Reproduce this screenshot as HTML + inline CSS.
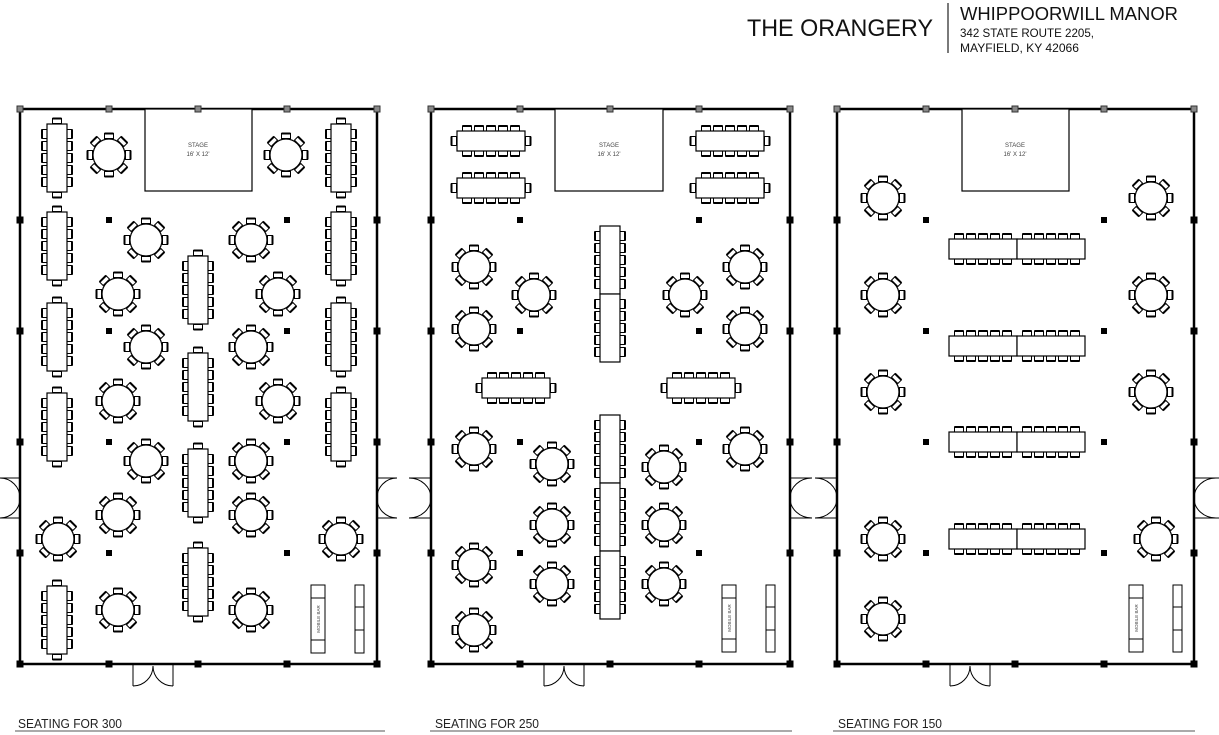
<!DOCTYPE html>
<html><head><meta charset="utf-8"><style>
html,body{margin:0;padding:0;background:#fff;width:1219px;height:735px;overflow:hidden}
svg{display:block}
text{font-family:"Liberation Sans",sans-serif}
</style></head><body>
<svg width="1219" height="735" viewBox="0 0 1219 735" xmlns="http://www.w3.org/2000/svg">
<defs>
<g id="ch"><rect x="-4.5" y="-2.5" width="9" height="5" fill="#fff" stroke="#000" stroke-width="1"/><line x1="-4.5" y1="-2.5" x2="4.5" y2="-2.5" stroke="#000" stroke-width="2"/></g>
<g id="rt">
<g transform="rotate(0) translate(0,-19)"><use href="#ch"/></g>
<g transform="rotate(45) translate(0,-19)"><use href="#ch"/></g>
<g transform="rotate(90) translate(0,-19)"><use href="#ch"/></g>
<g transform="rotate(135) translate(0,-19)"><use href="#ch"/></g>
<g transform="rotate(180) translate(0,-19)"><use href="#ch"/></g>
<g transform="rotate(225) translate(0,-19)"><use href="#ch"/></g>
<g transform="rotate(270) translate(0,-19)"><use href="#ch"/></g>
<g transform="rotate(315) translate(0,-19)"><use href="#ch"/></g>
<circle r="16" fill="#fff" stroke="#000" stroke-width="1.2"/>
</g>
<g id="hc">
<g transform="translate(-24,-12.5)"><use href="#ch"/></g><g transform="translate(-12,-12.5)"><use href="#ch"/></g><g transform="translate(0,-12.5)"><use href="#ch"/></g><g transform="translate(12,-12.5)"><use href="#ch"/></g><g transform="translate(24,-12.5)"><use href="#ch"/></g>
<g transform="translate(-24,12.5) rotate(180)"><use href="#ch"/></g><g transform="translate(-12,12.5) rotate(180)"><use href="#ch"/></g><g transform="translate(0,12.5) rotate(180)"><use href="#ch"/></g><g transform="translate(12,12.5) rotate(180)"><use href="#ch"/></g><g transform="translate(24,12.5) rotate(180)"><use href="#ch"/></g>
<rect x="-34" y="-10" width="68" height="20" fill="#fff" stroke="#000" stroke-width="1.2"/>
</g>
<g id="ht">
<g transform="translate(-37,0) rotate(-90)"><use href="#ch"/></g>
<g transform="translate(37,0) rotate(90)"><use href="#ch"/></g>
<use href="#hc"/>
</g>
<g id="vc"><g transform="rotate(90)"><use href="#hc"/></g></g>
<g id="vt"><g transform="rotate(90)"><use href="#ht"/></g></g>
<g id="pc"><rect x="-3.5" y="-3.5" width="7" height="7" fill="#000"/></g>
<g id="pi"><rect x="-3" y="-3" width="6" height="6" fill="#000"/></g>
<g id="pg"><rect x="-3" y="-3" width="6" height="6" fill="#888" stroke="#333" stroke-width="1"/></g>
</defs>

<text x="747" y="36" font-size="24" fill="#111" textLength="186" lengthAdjust="spacingAndGlyphs">THE ORANGERY</text>
<line x1="948" y1="3" x2="948" y2="53" stroke="#222" stroke-width="1.2"/>
<text x="960" y="20" font-size="18.5" fill="#111" textLength="218" lengthAdjust="spacingAndGlyphs">WHIPPOORWILL MANOR</text>
<text x="960" y="37" font-size="12" fill="#111" textLength="134" lengthAdjust="spacingAndGlyphs">342 STATE ROUTE 2205,</text>
<text x="960" y="52" font-size="12" fill="#111" textLength="119" lengthAdjust="spacingAndGlyphs">MAYFIELD, KY 42066</text>

<!-- PLAN 1 -->
<g>
<rect x="20" y="109" width="357" height="555" fill="none" stroke="#000" stroke-width="2.5"/>
<rect x="145" y="109" width="107" height="82" fill="#fff" stroke="#000" stroke-width="1.2"/>
<text x="198" y="147" font-size="6" text-anchor="middle" fill="#444">STAGE</text>
<text x="198" y="156" font-size="6" text-anchor="middle" fill="#444">16' X 12'</text>
<use href="#pg" x="20" y="109"/><use href="#pg" x="109" y="109"/><use href="#pg" x="198" y="109"/><use href="#pg" x="287" y="109"/><use href="#pg" x="377" y="109"/>
<use href="#pc" x="20" y="220"/><use href="#pc" x="20" y="331"/><use href="#pc" x="20" y="442"/><use href="#pc" x="20" y="553"/><use href="#pc" x="20" y="664"/>
<use href="#pc" x="377" y="220"/><use href="#pc" x="377" y="331"/><use href="#pc" x="377" y="442"/><use href="#pc" x="377" y="553"/><use href="#pc" x="377" y="664"/>
<use href="#pc" x="109" y="664"/><use href="#pc" x="198" y="664"/><use href="#pc" x="287" y="664"/>
<use href="#pi" x="109" y="220"/><use href="#pi" x="109" y="331"/><use href="#pi" x="109" y="442"/><use href="#pi" x="109" y="553"/>
<use href="#pi" x="287" y="220"/><use href="#pi" x="287" y="331"/><use href="#pi" x="287" y="442"/><use href="#pi" x="287" y="553"/>
<path d="M0 478 H20 M0 518 H20 M0 478 A20 20 0 0 1 20 498 M0 518 A20 20 0 0 0 20 498" fill="none" stroke="#000" stroke-width="1"/>
<path d="M133 664 V686 M173 664 V686 M133 686 A20 20 0 0 0 153 666 M173 686 A20 20 0 0 1 153 666" fill="none" stroke="#000" stroke-width="1"/>
<path d="M377 478 H397 M377 518 H397 M397 478 A20 20 0 0 0 377 498 M397 518 A20 20 0 0 1 377 498" fill="none" stroke="#000" stroke-width="1"/>
<use href="#rt" x="109" y="155"/><use href="#rt" x="286" y="155"/>
<use href="#rt" x="146" y="240"/><use href="#rt" x="251" y="240"/>
<use href="#rt" x="118" y="294"/><use href="#rt" x="278" y="294"/>
<use href="#rt" x="146" y="347"/><use href="#rt" x="251" y="347"/>
<use href="#rt" x="118" y="401"/><use href="#rt" x="278" y="401"/>
<use href="#rt" x="146" y="461"/><use href="#rt" x="251" y="461"/>
<use href="#rt" x="118" y="515"/><use href="#rt" x="251" y="515"/>
<use href="#rt" x="58" y="539"/><use href="#rt" x="341" y="539"/>
<use href="#rt" x="118" y="610"/><use href="#rt" x="251" y="610"/>
<use href="#vt" x="57" y="158"/><use href="#vt" x="57" y="246"/><use href="#vt" x="57" y="337"/><use href="#vt" x="57" y="427"/><use href="#vt" x="57" y="620"/>
<use href="#vt" x="341" y="158"/><use href="#vt" x="341" y="246"/><use href="#vt" x="341" y="337"/><use href="#vt" x="341" y="427"/>
<use href="#vt" x="198" y="290"/><use href="#vt" x="198" y="387"/><use href="#vt" x="198" y="483"/><use href="#vt" x="198" y="582"/>
<rect x="311" y="585" width="14" height="68" fill="#fff" stroke="#000" stroke-width="1"/>
<line x1="311" y1="598" x2="325" y2="598" stroke="#000"/><line x1="311" y1="640" x2="325" y2="640" stroke="#000"/>
<text transform="translate(320,619) rotate(-90)" font-size="4.5" text-anchor="middle" fill="#444">MOBILE BAR</text>
<rect x="355" y="585" width="9" height="68" fill="#fff" stroke="#000" stroke-width="1"/>
<line x1="355" y1="607" x2="364" y2="607" stroke="#000"/><line x1="355" y1="630" x2="364" y2="630" stroke="#000"/>
<text x="18" y="728" font-size="12.5" fill="#222" textLength="104" lengthAdjust="spacingAndGlyphs">SEATING FOR 300</text>
<line x1="15" y1="731" x2="385" y2="731" stroke="#555" stroke-width="1"/>
</g>

<!-- PLAN 2 -->
<g>
<rect x="431" y="109" width="359" height="555" fill="none" stroke="#000" stroke-width="2.5"/>
<rect x="555" y="109" width="108" height="82" fill="#fff" stroke="#000" stroke-width="1.2"/>
<text x="609" y="147" font-size="6" text-anchor="middle" fill="#444">STAGE</text>
<text x="609" y="156" font-size="6" text-anchor="middle" fill="#444">16' X 12'</text>
<use href="#pg" x="431" y="109"/><use href="#pg" x="520" y="109"/><use href="#pg" x="610" y="109"/><use href="#pg" x="699" y="109"/><use href="#pg" x="790" y="109"/>
<use href="#pc" x="431" y="220"/><use href="#pc" x="431" y="331"/><use href="#pc" x="431" y="442"/><use href="#pc" x="431" y="553"/><use href="#pc" x="431" y="664"/>
<use href="#pc" x="790" y="220"/><use href="#pc" x="790" y="331"/><use href="#pc" x="790" y="442"/><use href="#pc" x="790" y="553"/><use href="#pc" x="790" y="664"/>
<use href="#pc" x="520" y="664"/><use href="#pc" x="610" y="664"/><use href="#pc" x="699" y="664"/>
<use href="#pi" x="520" y="220"/><use href="#pi" x="520" y="331"/><use href="#pi" x="520" y="442"/><use href="#pi" x="520" y="553"/>
<use href="#pi" x="699" y="220"/><use href="#pi" x="699" y="331"/><use href="#pi" x="699" y="442"/><use href="#pi" x="699" y="553"/>
<path d="M409 478 H431 M409 518 H431 M409 478 A22 20 0 0 1 431 498 M409 518 A22 20 0 0 0 431 498" fill="none" stroke="#000" stroke-width="1"/>
<path d="M544 664 V686 M584 664 V686 M544 686 A20 20 0 0 0 564 666 M584 686 A20 20 0 0 1 564 666" fill="none" stroke="#000" stroke-width="1"/>
<path d="M790 478 H812 M790 518 H812 M812 478 A22 20 0 0 0 790 498 M812 518 A22 20 0 0 1 790 498" fill="none" stroke="#000" stroke-width="1"/>
<use href="#ht" x="491" y="141"/><use href="#ht" x="491" y="188"/><use href="#ht" x="730" y="141"/><use href="#ht" x="730" y="188"/>
<use href="#ht" x="516" y="388"/><use href="#ht" x="701" y="388"/>
<use href="#rt" x="474" y="267"/><use href="#rt" x="474" y="329"/><use href="#rt" x="534" y="295"/><use href="#rt" x="685" y="295"/><use href="#rt" x="745" y="267"/><use href="#rt" x="745" y="329"/>
<use href="#rt" x="474" y="449"/><use href="#rt" x="474" y="565"/><use href="#rt" x="474" y="630"/>
<use href="#rt" x="552" y="464"/><use href="#rt" x="552" y="525"/><use href="#rt" x="552" y="584"/>
<use href="#rt" x="664" y="467"/><use href="#rt" x="664" y="525"/><use href="#rt" x="664" y="584"/>
<use href="#rt" x="745" y="449"/>
<use href="#vc" x="610" y="260"/><use href="#vc" x="610" y="328"/>
<use href="#vc" x="610" y="449"/><use href="#vc" x="610" y="517"/><use href="#vc" x="610" y="585"/>
<rect x="722" y="585" width="14" height="67" fill="#fff" stroke="#000" stroke-width="1"/>
<line x1="722" y1="598" x2="736" y2="598" stroke="#000"/><line x1="722" y1="639" x2="736" y2="639" stroke="#000"/>
<text transform="translate(731,618) rotate(-90)" font-size="4.5" text-anchor="middle" fill="#444">MOBILE BAR</text>
<rect x="766" y="585" width="9" height="67" fill="#fff" stroke="#000" stroke-width="1"/>
<line x1="766" y1="607" x2="775" y2="607" stroke="#000"/><line x1="766" y1="630" x2="775" y2="630" stroke="#000"/>
<text x="435" y="728" font-size="12.5" fill="#222" textLength="104" lengthAdjust="spacingAndGlyphs">SEATING FOR 250</text>
<line x1="430" y1="731" x2="792" y2="731" stroke="#555" stroke-width="1"/>
</g>

<!-- PLAN 3 -->
<g>
<rect x="837" y="109" width="357" height="555" fill="none" stroke="#000" stroke-width="2.5"/>
<rect x="962" y="109" width="107" height="82" fill="#fff" stroke="#000" stroke-width="1.2"/>
<text x="1015" y="147" font-size="6" text-anchor="middle" fill="#444">STAGE</text>
<text x="1015" y="156" font-size="6" text-anchor="middle" fill="#444">16' X 12'</text>
<use href="#pg" x="837" y="109"/><use href="#pg" x="926" y="109"/><use href="#pg" x="1015" y="109"/><use href="#pg" x="1104" y="109"/><use href="#pg" x="1194" y="109"/>
<use href="#pc" x="837" y="220"/><use href="#pc" x="837" y="331"/><use href="#pc" x="837" y="442"/><use href="#pc" x="837" y="553"/><use href="#pc" x="837" y="664"/>
<use href="#pc" x="1194" y="220"/><use href="#pc" x="1194" y="331"/><use href="#pc" x="1194" y="442"/><use href="#pc" x="1194" y="553"/><use href="#pc" x="1194" y="664"/>
<use href="#pc" x="926" y="664"/><use href="#pc" x="1015" y="664"/><use href="#pc" x="1104" y="664"/>
<use href="#pi" x="926" y="220"/><use href="#pi" x="926" y="331"/><use href="#pi" x="926" y="442"/><use href="#pi" x="926" y="553"/>
<use href="#pi" x="1104" y="220"/><use href="#pi" x="1104" y="331"/><use href="#pi" x="1104" y="442"/><use href="#pi" x="1104" y="553"/>
<path d="M815 478 H837 M815 518 H837 M815 478 A22 20 0 0 1 837 498 M815 518 A22 20 0 0 0 837 498" fill="none" stroke="#000" stroke-width="1"/>
<path d="M950 664 V686 M990 664 V686 M950 686 A20 20 0 0 0 970 666 M990 686 A20 20 0 0 1 970 666" fill="none" stroke="#000" stroke-width="1"/>
<path d="M1194 478 H1219 M1194 518 H1219 M1216 478 A22 20 0 0 0 1194 498 M1216 518 A22 20 0 0 1 1194 498" fill="none" stroke="#000" stroke-width="1"/>
<use href="#rt" x="883" y="198"/><use href="#rt" x="1151" y="198"/>
<use href="#rt" x="883" y="295"/><use href="#rt" x="1151" y="295"/>
<use href="#rt" x="883" y="392"/><use href="#rt" x="1151" y="392"/>
<use href="#rt" x="883" y="539"/><use href="#rt" x="1156" y="539"/>
<use href="#rt" x="883" y="619"/>
<use href="#hc" x="983" y="249"/><use href="#hc" x="1051" y="249"/>
<use href="#hc" x="983" y="346"/><use href="#hc" x="1051" y="346"/>
<use href="#hc" x="983" y="442"/><use href="#hc" x="1051" y="442"/>
<use href="#hc" x="983" y="539"/><use href="#hc" x="1051" y="539"/>
<rect x="1129" y="585" width="14" height="67" fill="#fff" stroke="#000" stroke-width="1"/>
<line x1="1129" y1="598" x2="1143" y2="598" stroke="#000"/><line x1="1129" y1="639" x2="1143" y2="639" stroke="#000"/>
<text transform="translate(1138,618) rotate(-90)" font-size="4.5" text-anchor="middle" fill="#444">MOBILE BAR</text>
<rect x="1173" y="585" width="9" height="67" fill="#fff" stroke="#000" stroke-width="1"/>
<line x1="1173" y1="607" x2="1182" y2="607" stroke="#000"/><line x1="1173" y1="630" x2="1182" y2="630" stroke="#000"/>
<text x="838" y="728" font-size="12.5" fill="#222" textLength="104" lengthAdjust="spacingAndGlyphs">SEATING FOR 150</text>
<line x1="833" y1="731" x2="1195" y2="731" stroke="#555" stroke-width="1"/>
</g>
</svg>
</body></html>
